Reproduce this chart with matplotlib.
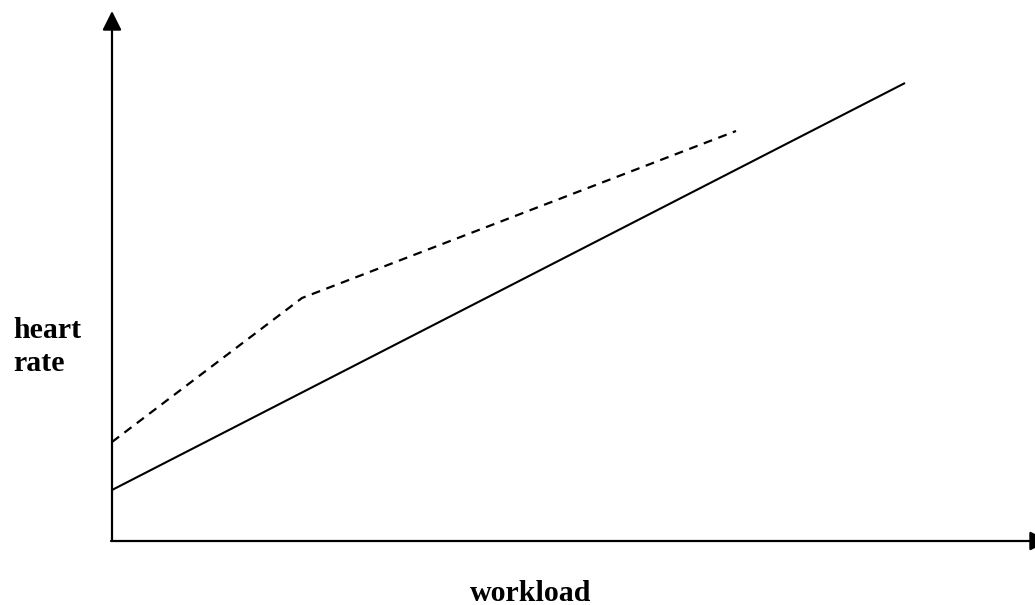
import matplotlib
matplotlib.use("Agg")
import matplotlib.pyplot as plt

# Data (arbitrary units: workload vs heart rate)
solid_x = [0, 793]
solid_y = [51, 458]
dashed_x = [0, 190, 624]
dashed_y = [99, 243, 410]

x_label = "workload"
y_label = "heart\nrate"

W, H = 1035, 605
fig = plt.figure(figsize=(W / 100, H / 100), dpi=100)
ox, oy = 112, 541
xmax, ymax = 921, 529
ax = fig.add_axes([ox / W, (H - oy) / H, xmax / W, ymax / H])
ax.set_xlim(0, xmax)
ax.set_ylim(0, ymax)
ax.axis("off")

ax.plot(solid_x, solid_y, color="black", lw=1.5, solid_capstyle="butt")
ax.plot(dashed_x, dashed_y, color="black", lw=1.6, linestyle=(0, (4, 3)))

arrow = dict(arrowstyle="-|>,head_length=0.58,head_width=0.29", lw=1.6,
             color="black", shrinkA=0, shrinkB=0, mutation_scale=20)
ax.annotate("", xy=(0, ymax + 1), xytext=(0, 0), arrowprops=arrow,
            annotation_clip=False)
ax.annotate("", xy=(xmax + 16, 0), xytext=(-1, 0), arrowprops=arrow,
            annotation_clip=False)

font = dict(family="Liberation Serif", fontweight="bold", fontsize=21.5)
fig.text(13 / W, 1 - 317 / H, y_label, ha="left", va="top",
         linespacing=1.3, **font)
fig.text(531 / W, 1 - 601 / H, x_label, ha="center", va="baseline", **font)

fig.savefig("out.png", dpi=100)
